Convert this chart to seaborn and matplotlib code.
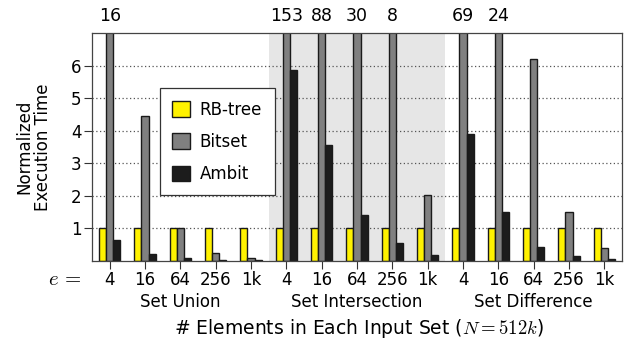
import matplotlib
matplotlib.use("Agg")
import matplotlib.pyplot as plt
import matplotlib.transforms as mtransforms
import pandas as pd
import seaborn as sns

OPERATIONS = ["Set Union", "Set Intersection", "Set Difference"]
ELEMENTS = ["4", "16", "64", "256", "1k"]
SYSTEMS = ["RB-tree", "Bitset", "Ambit"]

RBTREE = [1.0] * 15
BITSET = [16, 4.45, 1.0, 0.24, 0.07,
          153, 88, 30, 8, 2.01,
          69, 24, 6.2, 1.51, 0.38]
AMBIT = [0.63, 0.19, 0.07, 0.03, 0.02,
         5.85, 3.55, 1.40, 0.53, 0.17,
         3.88, 1.49, 0.43, 0.14, 0.06]

COLORS = ["#fff200", "#808080", "#1c1c1c"]
YMAX = 7

sns.set_style("white")
plt.rcParams["font.family"] = ["DejaVu Sans"]
plt.rcParams["mathtext.fontset"] = "cm"
plt.rcParams["text.color"] = "black"
plt.rcParams["axes.labelcolor"] = "black"
plt.rcParams["xtick.color"] = "black"
plt.rcParams["ytick.color"] = "black"

groups = [f"{op}|{e}" for op in OPERATIONS for e in ELEMENTS]
rows = []
for i, g in enumerate(groups):
    for sys_name, vals in zip(SYSTEMS, [RBTREE, BITSET, AMBIT]):
        rows.append({"group": g, "system": sys_name, "time": vals[i]})
df = pd.DataFrame(rows)

fig = plt.figure(figsize=(6.26, 3.44), dpi=100)
ax = fig.add_axes([0.147, 0.2424, 0.8466, 0.6616])

ax.axvspan(4.5, 9.5, color="#e6e6e6", zorder=0, lw=0)

sns.barplot(data=df, x="group", y="time", hue="system", order=groups,
            hue_order=SYSTEMS, palette=COLORS, width=0.6, edgecolor="#1a1a1a",
            linewidth=1.0, saturation=1, ax=ax, zorder=2)

ax.set_xlim(-0.5, len(groups) - 0.5)
ax.set_ylim(0, YMAX)
ax.set_yticks(range(1, 7))
ax.set_yticklabels([str(v) for v in range(1, 7)], fontsize=12)
ax.set_xticks(range(len(groups)))
ax.set_xticklabels(ELEMENTS * 3, fontsize=12)
ax.tick_params(axis="both", direction="out", length=5.5, width=0.8, color="#333333",
               bottom=True, left=True, pad=2)
ax.yaxis.grid(True, linestyle=(0, (1, 2)), color="#555555", linewidth=0.9)
ax.set_axisbelow(True)
for s in ax.spines.values():
    s.set_color("#444444")
    s.set_linewidth(0.9)

ax.set_xlabel("")
ax.set_ylabel("Normalized\nExecution Time", fontsize=12, linespacing=1.0, labelpad=14)

# values clipped above the axis
for i, v in enumerate(BITSET):
    if v > YMAX:
        ax.text(i, YMAX + 0.25, f"{v:g}", ha="center", va="bottom", fontsize=12.5,
                clip_on=False)

trans = mtransforms.blended_transform_factory(ax.transData, ax.transAxes)
ax.text(-1.28, -0.08, "$e\\,=$", transform=trans, ha="center", va="center",
        fontsize=15, clip_on=False)
for k, op in enumerate(OPERATIONS):
    ax.text(k * 5 + 2, -0.18, op, transform=trans, ha="center", va="center",
            fontsize=12, clip_on=False)
fig.text(0.5 + 0.147 / 2, 0.045, r"# Elements in Each Input Set ($N = 512k$)",
         ha="center", va="center", fontsize=13.5)

leg = ax.legend(loc="upper left", bbox_to_anchor=(0.128, 0.758), fontsize=12,
                frameon=True, fancybox=False, framealpha=1, edgecolor="#333333",
                handlelength=1.05, handleheight=1.05, labelspacing=0.85,
                borderpad=0.75, handletextpad=0.6, borderaxespad=0)
leg.get_frame().set_linewidth(0.9)

fig.savefig("out.png", dpi=100)
